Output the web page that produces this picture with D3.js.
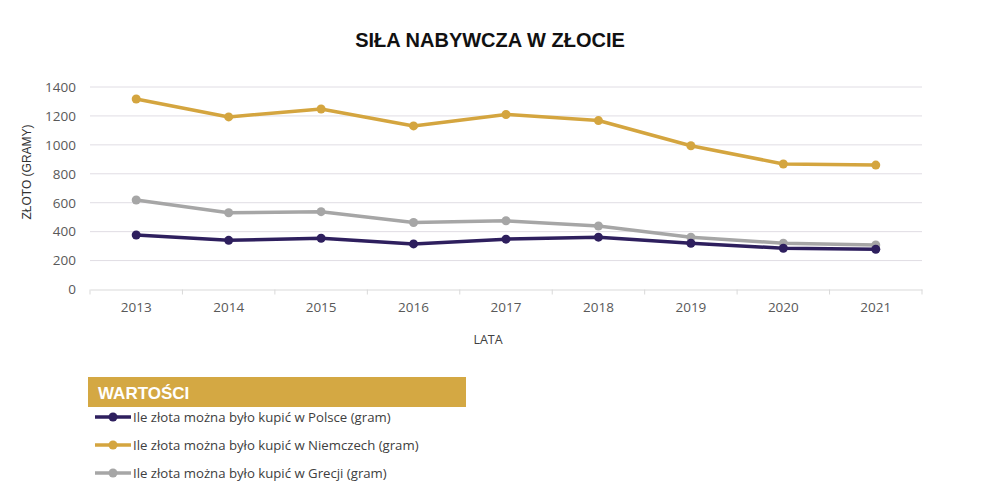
<!DOCTYPE html>
<html><head><meta charset="utf-8">
<script src="https://cdn.jsdelivr.net/npm/d3@7"></script>
<style>body{margin:0;background:#fff}svg{display:block}</style>
</head><body><svg id="c" width="983" height="497"></svg>
<script>
const years = ["2013","2014","2015","2016","2017","2018","2019","2020","2021"];
const poland = [377,340,354,315,348,362,320,285,278];
const germany = [1317,1193,1248,1131,1210,1168,994,868,860];
const greece = [619,531,538,463,475,439,361,320,308];
const yTicks = [0,200,400,600,800,1000,1200,1400];
const seriesNames = ["Ile złota można było kupić w Polsce (gram)","Ile złota można było kupić w Niemczech (gram)","Ile złota można było kupić w Grecji (gram)"];
const seriesColors = ["#2e1f5e","#d4a53f","#a6a6a6"];

const svg = d3.select("#c");
const m = {l:90, r:922, t:87, b:289.5};
const x = d3.scaleBand().domain(years).range([m.l, m.r]);
const y = d3.scaleLinear().domain([0,1400]).range([m.b, m.t]);
const font = "'Open Sans', 'Liberation Sans', sans-serif";

svg.append("text").attr("x",490).attr("y",47).attr("text-anchor","middle")
  .attr("font-family","'Liberation Sans', Arial, sans-serif").attr("font-weight","bold")
  .attr("font-size",20).attr("fill","#111").text("SIŁA NABYWCZA W ZŁOCIE");

// gridlines
svg.append("g").selectAll("line").data(yTicks.filter(d=>d>0)).join("line")
  .attr("x1",m.l).attr("x2",m.r).attr("y1",d=>y(d)).attr("y2",d=>y(d))
  .attr("stroke","#e0dde4").attr("stroke-width",1);

// y axis
const ya = svg.append("g").attr("transform",`translate(${m.l},0)`)
  .call(d3.axisLeft(y).tickValues(yTicks).tickFormat(d3.format("d")).tickSize(0).tickPadding(14));
ya.select(".domain").remove();
ya.selectAll("text").attr("font-family",font).attr("font-size",13.5).attr("fill","#595959");

// x axis
const xa = svg.append("g").attr("transform",`translate(0,${m.b})`)
  .call(d3.axisBottom(x).tickSize(0).tickPadding(13));
xa.select(".domain").attr("stroke","#d9d9d9");
xa.selectAll("text").attr("font-family",font).attr("font-size",13.5).attr("fill","#595959");
svg.append("g").selectAll("line").data(years.concat(["end"])).join("line")
  .attr("x1",(d,i)=>m.l+i*x.bandwidth()).attr("x2",(d,i)=>m.l+i*x.bandwidth())
  .attr("y1",m.b).attr("y2",m.b+5).attr("stroke","#d9d9d9");

svg.append("text").attr("transform","translate(31,172) rotate(-90)").attr("text-anchor","middle")
  .attr("font-family","'Liberation Sans', Arial, sans-serif").attr("font-size",12).attr("fill","#333").text("ZŁOTO (GRAMY)");
svg.append("text").attr("x",488).attr("y",344).attr("text-anchor","middle")
  .attr("font-family",font).attr("font-size",12.5).attr("fill","#404040").text("LATA");

const allSeries = [greece, poland, germany];
const colorFor = [seriesColors[2], seriesColors[0], seriesColors[1]];
const line = d3.line().x((d,i)=>x(years[i])+x.bandwidth()/2).y(d=>y(d));
allSeries.forEach((s,k)=>{
  const g = svg.append("g");
  g.append("path").attr("d",line(s)).attr("fill","none").attr("stroke",colorFor[k])
    .attr("stroke-width",3.5).attr("stroke-linejoin","round");
  g.selectAll("circle").data(s).join("circle")
    .attr("cx",(d,i)=>x(years[i])+x.bandwidth()/2).attr("cy",d=>y(d)).attr("r",4.5).attr("fill",colorFor[k]);
});

// legend
svg.append("rect").attr("x",88).attr("y",377).attr("width",378).attr("height",30).attr("fill","#d4a843");
svg.append("text").attr("x",98).attr("y",399).attr("font-family","'Liberation Sans', Arial, sans-serif")
  .attr("font-weight","bold").attr("font-size",17).attr("fill","#fff").text("WARTOŚCI");
seriesNames.forEach((n,i)=>{
  const yy = 417 + i*28;
  svg.append("line").attr("x1",95).attr("x2",131).attr("y1",yy).attr("y2",yy)
    .attr("stroke",seriesColors[i]).attr("stroke-width",3.5);
  svg.append("circle").attr("cx",113).attr("cy",yy).attr("r",4.5).attr("fill",seriesColors[i]);
  svg.append("text").attr("x",133).attr("y",yy+4.5).attr("font-family",font).attr("font-size",13.2)
    .attr("fill","#404040").text(n);
});
</script></body></html>
